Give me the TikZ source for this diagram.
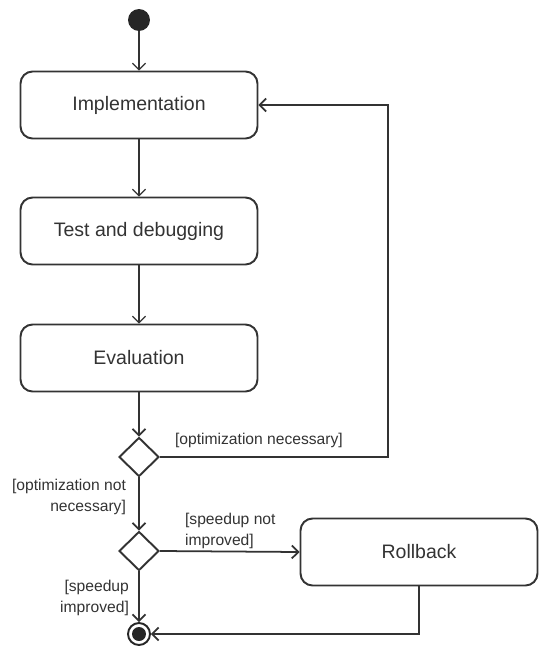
\documentclass[tikz,border=0pt]{standalone}
\usepackage{fontspec}
\setmainfont{Liberation Sans}
\usetikzlibrary{shapes.geometric,arrows.meta}

\begin{document}
\begin{tikzpicture}[x=0.02cm, y=-0.02cm,
    state/.style={draw=black!80, line width=1.1pt, rounded corners=0.24cm,
        minimum width=4.74cm, minimum height=1.34cm, text=black!80,
        font=\fontsize{11.1}{13}\selectfont},
    choice/.style={diamond, draw=black!80, line width=1.1pt, aspect=1,
        minimum width=0.8cm, minimum height=0.78cm, inner sep=0pt},
    guard/.style={text=black!80, inner sep=1pt, font=\fontsize{8.9}{11.9}\selectfont},
    flow/.style={draw=black!80, line width=1pt, -{Straight Barb[length=1.3mm,width=2.6mm]}},
    thinflow/.style={flow, line width=0.7pt}]
    \useasboundingbox (0,0) rectangle (538,646);

    % start and end
    \node (init) [circle, fill=black!85, minimum size=0.44cm, inner sep=0pt] at (139,20) {};
    \node (final) [circle, draw=black!85, line width=1.1pt, minimum size=0.44cm, inner sep=0pt] at (139,634) {};
    \fill[black!85] (final.center) circle (0.14cm);

    % activities
    \node (impl) [state] at (139,105) {Implementation};
    \node (test) [state] at (139,231) {Test and debugging};
    \node (eval) [state] at (139,358) {Evaluation};
    \node (rollback) [state] at (419,552) {Rollback};

    % decisions
    \node (optdec) [choice] at (139,457) {};
    \node (speeddec) [choice] at (139,551) {};

    \coordinate (loopdown) at (388,457);
    \coordinate (loopup) at (388,105);

    % connectors
    \draw[thinflow] (init) -- (impl);
    \draw[thinflow] (impl) -- (test);
    \draw[thinflow] (test) -- (eval);
    \draw[flow] (eval) -- (optdec);
    \draw[flow] (optdec.east) -- (loopdown) -- (loopup) -- (impl.east);
    \draw[flow] (optdec) -- (speeddec);
    \draw[flow] (speeddec.east) -- (rollback.west);
    \draw[flow] (speeddec) -- (final);
    \draw[flow] (rollback.south) |- (final.east);

    % guards
    \node[guard, anchor=west] at (173,440) {[optimization necessary]};
    \node[guard, anchor=east, align=right] at (128,497) {[optimization not\\necessary]};
    \node[guard, anchor=west, align=left] at (183,531) {[speedup not\\improved]};
    \node[guard, anchor=east, align=right] at (131,598) {[speedup\\improved]};
\end{tikzpicture}
\end{document}
